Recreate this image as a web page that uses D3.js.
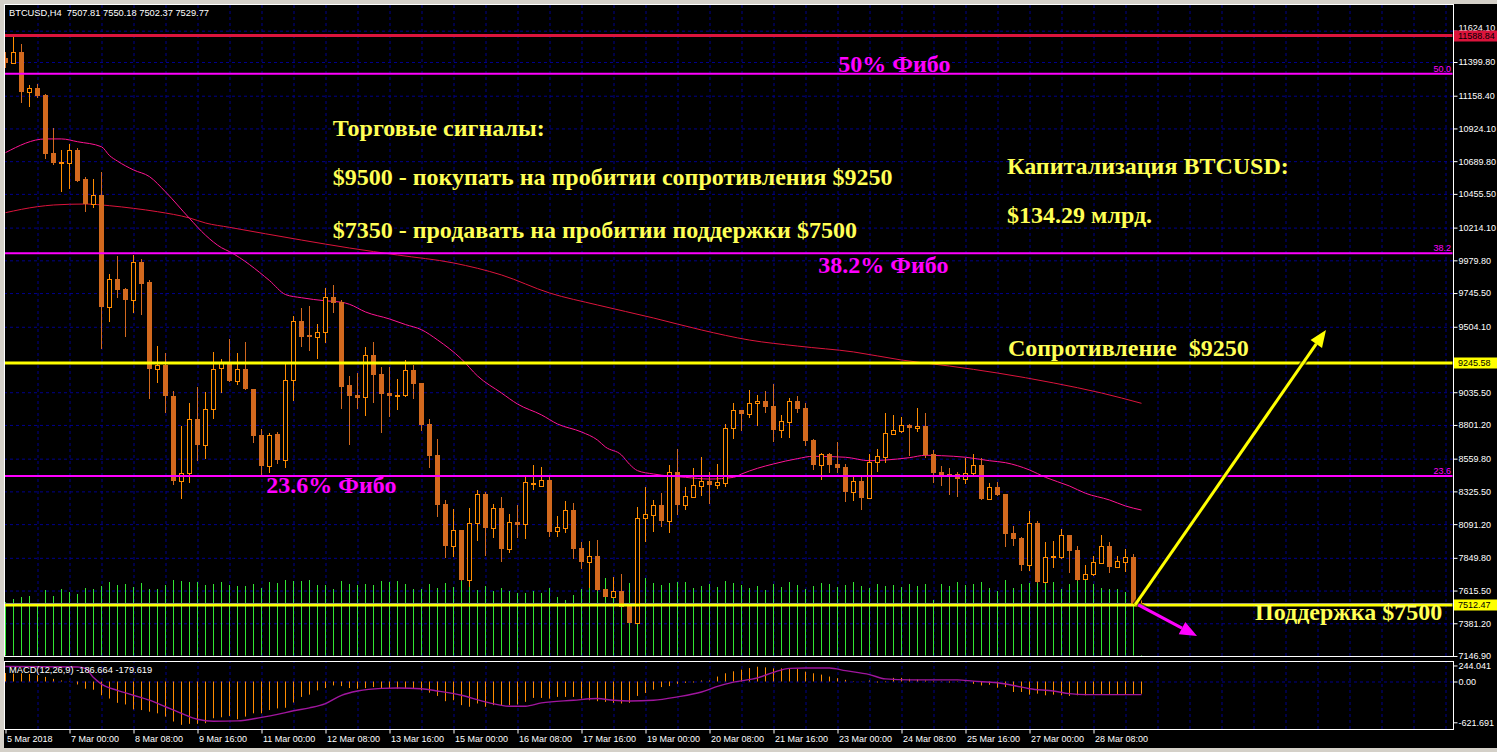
<!DOCTYPE html>
<html><head><meta charset="utf-8">
<script src="https://cdn.jsdelivr.net/npm/d3@7"></script>
<style>
html,body{margin:0;padding:0;background:#d4d0c8;overflow:hidden}
svg{display:block}
</style></head><body>
<script>
// ---------------- DATA ----------------
const openP = [11426,11395,11472,11187,11214,11164,10748,10679,10679,10770,
10562,10383,10448,9648,9846,9775,9696,9966,9823,9200,
9228,9008,8402,8455,8842,8660,8913,9207,9243,9118,
9200,9056,8727,8509,8736,8550,9123,9543,9443,9433,
9465,9715,9682,9085,9016,8999,9300,9166,9030,9011,
9016,9195,9102,8808,8586,8235,7935,8049,7691,8097,
8307,8066,8205,7915,8106,8094,8378,8366,8407,8044,
8066,8192,7920,7822,7863,7627,7572,7612,7507,7385,
8137,8159,8228,8116,8462,8230,8288,8366,8400,8374,
8388,8777,8906,8882,8961,8971,8937,8767,8825,8971,
8923,8694,8515,8593,8522,8500,8321,8400,8278,8534,
8574,8739,8760,8799,8782,8794,8593,8464,8450,8450,
8416,8455,8515,8271,8355,8307,8028,7994,7798,8097,
7679,7854,7858,8013,7906,7698,7734,7815,7935,7786,
7822,7856,7507.81];
const highP = [11474,11586,11529,11235,11242,11170,10927,10770,10813,10784,
10577,10562,10610,9882,10011,9780,10016,9990,9839,9367,
9314,9044,8796,8956,9071,9037,9324,9271,9414,9314,
9395,9060,8774,8741,8751,9243,9581,9639,9653,9524,
9782,9801,9696,9150,9173,9357,9395,9214,9214,9128,
9266,9228,9105,8844,8701,8264,8200,8052,8207,8336,
8323,8233,8283,8164,8228,8431,8515,8498,8426,8149,
8257,8242,7963,7970,7978,7630,7713,7734,7519,8216,
8359,8264,8316,8515,8629,8359,8493,8570,8462,8522,
8806,8958,8910,9051,9016,9044,9094,8870,8992,9008,
8958,8700,8603,8603,8681,8519,8431,8431,8593,8629,
8889,8872,8858,8806,8923,8889,8622,8507,8491,8467,
8562,8593,8562,8388,8395,8310,8078,8001,8185,8114,
7963,7970,8056,8016,7935,7798,7863,8013,7963,7863,
7911,7877,7550.18];
const lowP = [11355,11389,11109,11080,11142,10708,10662,10469,10493,10541,
10328,10357,9347,9540,9712,9433,9605,9588,8987,9104,
8885,8373,8273,8388,8545,8560,8846,9028,9111,9085,
9051,8674,8436,8455,8519,8491,8975,9361,9333,9276,
9386,9601,8913,8660,8913,8865,8961,8746,8860,8908,
9004,8989,8760,8495,8144,7849,7858,7684,7643,7973,
7865,7994,7822,7882,7992,7987,8336,8359,8001,8001,
8030,7844,7772,7634,7612,7569,7566,7498,7383,7383,
7965,8037,8073,8026,8157,8192,8283,8293,8235,8343,
8359,8701,8760,8853,8796,8889,8681,8710,8710,8889,
8651,8479,8407,8455,8455,8250,8257,8192,8273,8467,
8531,8734,8741,8579,8753,8562,8386,8364,8300,8288,
8378,8436,8267,8264,8295,7929,7937,7758,7758,7667,
7677,7779,7841,7741,7684,7691,7722,7811,7743,7779,
7750,7505,7502.37];
const closeP = [11395,11469,11187,11212,11159,10741,10679,10686,10770,10548,
10383,10448,9648,9846,9768,9696,9966,9810,9200,9228,
9011,8402,8455,8842,8660,8913,9200,9243,9118,9200,
9056,8724,8509,8727,8550,9123,9543,9433,9433,9465,
9715,9677,9075,9011,8996,9300,9161,9025,9011,9016,
9195,9097,8803,8581,8228,7935,8049,7691,8097,8307,
8066,8205,7915,8104,8087,8391,8385,8407,8035,8068,
8192,7915,7822,7861,7620,7572,7610,7500,7385,8133,
8162,8228,8116,8462,8228,8290,8369,8400,8371,8391,
8777,8906,8882,8956,8971,8932,8767,8827,8971,8918,
8688,8515,8593,8515,8495,8321,8400,8278,8536,8577,
8741,8763,8799,8782,8794,8586,8459,8441,8441,8416,
8455,8515,8271,8355,8300,8020,7987,7798,8097,7679,
7856,7863,8013,7899,7691,7734,7818,7935,7786,7825,
7856,7508,7529.77];
const volume = [54,57,59,60,52,66,60,67,64,62,
68,67,70,74,71,72,69,73,67,67,
71,76,75,74,74,71,72,74,71,70,
70,72,68,74,73,76,75,75,76,71,
71,67,75,72,71,72,71,75,74,75,
72,67,67,72,68,73,69,76,73,66,
70,65,68,65,63,63,65,63,68,59,
56,61,67,72,74,78,70,72,73,74,
78,73,71,73,74,74,68,70,72,69,
75,73,71,68,70,66,72,69,74,71,
67,70,73,72,69,71,74,70,68,72,
70,71,69,72,70,72,56,72,70,74,
71,72,74,68,65,76,68,72,73,76,
73,74,67,72,76,77,72,68,67,67,
64,71,1];
const macdHist = [130,120,125,115,95,70,40,15,5,-45,
-110,-125,-210,-260,-325,-350,-425,-435,-460,-485,
-535,-610,-660,-645,-645,-635,-560,-545,-525,-575,
-535,-485,-485,-435,-410,-400,-320,-235,-200,-135,
-100,-60,-70,-100,-110,-100,-85,-110,-100,-110,
-100,-100,-135,-170,-220,-300,-285,-360,-385,-335,
-385,-360,-370,-360,-350,-310,-250,-250,-260,-235,
-235,-235,-260,-285,-300,-310,-325,-335,-325,-220,
-175,-125,-85,-70,-35,-20,-15,15,15,75,
125,155,180,205,225,215,200,200,200,190,
150,125,105,75,50,25,5,3,15,-15,
-10,55,55,40,30,15,-10,-5,-15,-5,
5,-35,-60,-50,-95,-85,-160,-160,-200,-185,
-210,-200,-210,-220,-210,-210,-200,-200,-200,-200,
-200,-195,-187];
const signalIdx = [0,9,10,11,12,14,16,18,20,22,24,26,29,32,34,36,38,40,42,44,47,49,52,54,57,60,63,65,67,71,74,76,78,81,84,87,89,91,94,96,98,100,103,105,108,110,113,116,119,121,124,126,128,131,133,135,142];
const signalVal = [228,222,200,60,-40,-135,-210,-285,-385,-486,-576,-605,-600,-546,-501,-446,-401,-336,-210,-145,-105,-100,-110,-145,-210,-311,-376,-376,-326,-286,-260,-286,-296,-286,-235,-160,-75,-10,55,140,200,205,205,165,105,40,25,25,25,5,-20,-60,-110,-145,-185,-200,-200];
const maFastIdx = [0,5,7,9,12,13,14,16,18,20,23,25,27,28,33,35,37,40,42,43,45,48,50,52,54,57,59,62,64,67,69,72,74,75,77,78,79,81,85,88,91,92,94,96,99,101,105,108,110,113,115,117,120,123,125,128,130,133,135,138,140,142];
const maFastVal = [10751,10849,10849,10829,10793,10730,10690,10627,10579,10470,10280,10160,10070,10042,9835,9735,9712,9690,9680,9665,9610,9560,9520,9483,9410,9273,9152,9030,8951,8873,8808,8751,8693,8643,8586,8520,8474,8450,8426,8414,8426,8450,8491,8522,8560,8577,8570,8545,8550,8567,8584,8581,8570,8545,8531,8479,8426,8364,8312,8264,8221,8192];
const maSlowIdx = [0,4,6,10,13,16,19,23,25,28,37,43,49,56,62,68,74,81,87,93,99,106,112,118,124,131,137,142];
const maSlowVal = [10321,10364,10376,10383,10371,10352,10328,10283,10247,10216,10125,10068,10018,9961,9875,9746,9660,9567,9481,9409,9366,9324,9266,9223,9173,9102,9030,8956];
const priceTicks = [11624.10,11399.80,11158.40,10924.10,10689.80,10455.50,10214.10,9979.80,9745.50,9504.10,9035.50,8801.20,8559.80,8325.50,8091.20,7849.80,7615.50,7381.20,7146.90];
const macdTicks = [244.041, 0, -621.691];
const timeTickIdx = [0,8,16,24,32,40,48,56,64,72,80,88,96,104,112,120,128,136];
const timeTickLabels = ["5 Mar 2018","7 Mar 00:00","8 Mar 08:00","9 Mar 16:00","11 Mar 00:00","12 Mar 08:00","13 Mar 16:00","15 Mar 00:00","16 Mar 08:00","17 Mar 16:00","19 Mar 00:00","20 Mar 08:00","21 Mar 16:00","23 Mar 00:00","24 Mar 08:00","25 Mar 16:00","27 Mar 00:00","28 Mar 08:00"];
const fiboNames = ["50.0","38.2","23.6"];
const fiboPrices = [11316,10030,8436];
const hLinePrices = [11588.84, 9245.58, 7512.47];
const hLineKinds = ["red","yellow","yellow"];
const bidPrice = 7529.77;
const headerText = "BTCUSD,H4  7507.81 7550.18 7502.37 7529.77";
const macdText = "MACD(12,26,9) -186.664 -179.619";
const noteTexts = ["50% Фибо","Торговые сигналы:","$9500 - покупать на пробитии сопротивления $9250","$7350 - продавать на пробитии поддержки $7500","Капитализация BTCUSD:","$134.29 млрд.","38.2% Фибо","Сопротивление  $9250","23.6% Фибо","Поддержка $7500"];
const noteIdx = [104.1,40.9,40.9,40.9,125.2,125.2,101.6,125.3,32.6,156.2];
const notePrice = [11328,10870,10519,10140,10598,10247,9889,9295,8314,7405];
const noteKind = ["fib","sig","sig","sig","sig","sig","fib","sig","fib","sig"];
const arrowFrom = [[141.2,7512.47],[141.6,7512.47]];
const arrowTo = [[165.06,9481],[148.94,7290]];
const arrowKind = ["yellow","magenta"];

// ---------------- LAYOUT / STYLE ----------------
const W=1497,H=752, L=4, R=1453, mT=4, mB=656, dT=661, dB=729;
const C = {bg:"#000", grid:"#00008c", bull:"#ff8c00", bear:"#d2691e", vol:"#32e632",
  fast:"#ff1493", slow:"#dc143c", red:"#dc143c", yellow:"#ffff00", magenta:"#ff00ff",
  hist:"#ff8c00", sig:"#a0169e", text:"#ffffff", note:"#ffff55", bid:"#2a2aff"};
const fontUI = "'Liberation Sans', Arial, sans-serif";
const fontNote = "'Liberation Serif', 'Times New Roman', serif";

const x = d3.scaleLinear().domain([0,181]).range([5.5, 5.5+8*181]);
const y = d3.scaleLinear().domain([7146.9, 11399.8]).range([656, 62]);
const yv = d3.scaleLinear().domain([0,100]).range([mB, mB-100]);
const ym = d3.scaleLinear().domain([-621.691, 0]).range([722.3, 681.5]);

const svg = d3.select("body").append("svg").attr("width",W).attr("height",H);
svg.append("rect").attr("width",W).attr("height",H).attr("fill","#d4d0c8");
svg.append("rect").attr("x",4).attr("y",4).attr("width",W-4).attr("height",744).attr("fill",C.bg);

const defs = svg.append("defs");
defs.append("clipPath").attr("id","cm").append("rect").attr("x",L+0.5).attr("y",mT+0.5).attr("width",R-L-1).attr("height",mB-mT-1);
defs.append("clipPath").attr("id","cd").append("rect").attr("x",L+0.5).attr("y",dT+0.5).attr("width",R-L-1).attr("height",dB-dT-1);

const gridK = d3.range(4, 181, 4);
function vgrid(top, bottom){
  const g = svg.append("g").attr("transform",`translate(0,${bottom})`)
    .call(d3.axisBottom(x).tickValues(gridK).tickSize(-(bottom-top)).tickFormat(""));
  g.select(".domain").remove();
  g.selectAll("line").attr("stroke",C.grid).attr("stroke-dasharray","3,3");
}
vgrid(mT, mB); vgrid(dT, dB);
{
  const g = svg.append("g").attr("transform",`translate(${R},0)`)
    .call(d3.axisLeft(y).tickValues(priceTicks).tickSize(R-L).tickFormat(""));
  g.select(".domain").remove();
  g.selectAll("line").attr("stroke",C.grid).attr("stroke-dasharray","3,3");
  const g2 = svg.append("g").attr("transform",`translate(${R},0)`)
    .call(d3.axisLeft(ym).tickValues([0]).tickSize(R-L).tickFormat(""));
  g2.select(".domain").remove();
  g2.selectAll("line").attr("stroke",C.grid).attr("stroke-dasharray","3,3");
}

// ---- main panel ----
const main = svg.append("g").attr("clip-path","url(#cm)");
const idx = d3.range(openP.length);
main.append("g").selectAll("line").data(idx).join("line")
  .attr("x1",i=>x(i)).attr("x2",i=>x(i)).attr("y1",mB).attr("y2",i=>yv(volume[i]))
  .attr("stroke",C.vol).attr("stroke-width",1);

main.append("line").attr("x1",L).attr("x2",R).attr("y1",Math.round(y(bidPrice))+0.5).attr("y2",Math.round(y(bidPrice))+0.5)
  .attr("stroke",C.bid).attr("stroke-width",1);

const line = d3.line().curve(d3.curveMonotoneX);
main.append("path").attr("d", line(maSlowIdx.map((k,i)=>[x(k), y(maSlowVal[i])])))
  .attr("fill","none").attr("stroke",C.slow).attr("stroke-width",1);
main.append("path").attr("d", line(maFastIdx.map((k,i)=>[x(k), y(maFastVal[i])])))
  .attr("fill","none").attr("stroke",C.fast).attr("stroke-width",1);

const cg = main.append("g");
idx.forEach(i=>{
  const o=openP[i], h=highP[i], l=lowP[i], c=closeP[i];
  const bull = c>=o, col = bull?C.bull:C.bear, xc=x(i);
  cg.append("line").attr("x1",xc).attr("x2",xc).attr("y1",Math.round(y(h))).attr("y2",Math.round(y(l)))
    .attr("stroke",col).attr("stroke-width",1);
  const top = Math.round(y(Math.max(o,c))), bot = Math.round(y(Math.min(o,c)));
  if (bull){
    if (bot-top < 2){
      cg.append("rect").attr("x",xc-2.5).attr("y",top).attr("width",5).attr("height",Math.max(1,bot-top)+1).attr("fill",col);
    } else {
      cg.append("rect").attr("x",xc-2).attr("y",top+0.5).attr("width",4).attr("height",bot-top)
        .attr("fill",C.bg).attr("stroke",col).attr("stroke-width",1);
    }
  } else {
    cg.append("rect").attr("x",xc-2.5).attr("y",top).attr("width",5).attr("height",Math.max(1,bot-top)).attr("fill",col);
  }
});

// horizontal levels
fiboPrices.forEach((p,i)=>{
  main.append("line").attr("x1",L).attr("x2",R).attr("y1",y(p)).attr("y2",y(p))
    .attr("stroke",C.magenta).attr("stroke-width",2);
  svg.append("text").attr("x",R-2).attr("y",y(p)-2).attr("text-anchor","end")
    .attr("font-family",fontUI).attr("font-size",9).attr("fill",C.magenta).text(fiboNames[i]);
});
hLinePrices.forEach((p,i)=>{
  main.append("line").attr("x1",L).attr("x2",R).attr("y1",y(p)).attr("y2",y(p))
    .attr("stroke",C[hLineKinds[i]]).attr("stroke-width",3);
});

// arrows
arrowFrom.forEach((f,i)=>{
  const x1=x(f[0]), y1=y(f[1]), x2=x(arrowTo[i][0]), y2=y(arrowTo[i][1]);
  const col = C[arrowKind[i]];
  const ang = Math.atan2(y2-y1, x2-x1), len=17, hw=7;
  const bx = x2-len*Math.cos(ang), by = y2-len*Math.sin(ang);
  svg.append("line").attr("x1",x1).attr("y1",y1).attr("x2",bx).attr("y2",by)
    .attr("stroke","#000").attr("stroke-opacity",0.6).attr("stroke-width",6);
  svg.append("line").attr("x1",x1).attr("y1",y1).attr("x2",bx).attr("y2",by)
    .attr("stroke",col).attr("stroke-width",3);
  const pts = [[x2,y2],[bx+hw*Math.sin(ang), by-hw*Math.cos(ang)],[bx-hw*Math.sin(ang), by+hw*Math.cos(ang)]];
  svg.append("polygon").attr("points",pts.map(p=>p.join(",")).join(" ")).attr("fill",col);
});

// notes
noteTexts.forEach((t,i)=>{
  svg.append("text").attr("x",x(noteIdx[i])).attr("y",y(notePrice[i]))
    .attr("font-family",fontNote).attr("font-weight","bold").attr("font-size",24)
    .attr("fill", noteKind[i]==="fib"?C.magenta:C.note).style("white-space","pre").text(t);
});

// ---- MACD panel ----
const md = svg.append("g").attr("clip-path","url(#cd)");
md.append("g").selectAll("line").data(idx).join("line")
  .attr("x1",i=>x(i)).attr("x2",i=>x(i)).attr("y1",ym(0)).attr("y2",i=>ym(macdHist[i]))
  .attr("stroke",C.hist).attr("stroke-width",1);
md.append("path").attr("d", line(signalIdx.map((k,i)=>[x(k), ym(signalVal[i])])))
  .attr("fill","none").attr("stroke",C.sig).attr("stroke-width",1.4);

// frames
svg.append("rect").attr("x",L+0.5).attr("y",mT+0.5).attr("width",R-L).attr("height",mB-mT).attr("fill","none").attr("stroke","#fff");
svg.append("rect").attr("x",L+0.5).attr("y",dT+0.5).attr("width",R-L).attr("height",dB-dT).attr("fill","none").attr("stroke","#fff");

// price axis
function styleAxis(g){
  g.select(".domain").remove();
  g.selectAll("line").attr("stroke","#fff");
  g.selectAll("text").attr("fill",C.text).attr("font-family",fontUI).attr("font-size",9);
}
const boxY = hLinePrices.map(p=>Math.round(y(p)));
svg.append("g").attr("transform",`translate(${R+0.5},0)`)
  .call(d3.axisRight(y).tickValues(priceTicks).tickSize(4).tickPadding(1).tickFormat(d=>d.toFixed(2)))
  .call(styleAxis)
  .call(g=>g.selectAll(".tick text").filter(d=>boxY.some(b=>Math.abs(y(d)-b)<8)).attr("dy","-0.05em"));
svg.append("g").attr("transform",`translate(${R+0.5},0)`)
  .call(d3.axisRight(ym).tickValues(macdTicks).tickSize(4).tickPadding(1).tickFormat(d=>d===0?"0.00":d.toFixed(3)))
  .call(styleAxis);

// level boxes on the axis
hLinePrices.forEach((p,i)=>{
  const yy = boxY[i];
  svg.append("rect").attr("x",R+1).attr("y",yy-5.5).attr("width",W-R-1).attr("height",11).attr("fill",C[hLineKinds[i]]);
  svg.append("text").attr("x",R+5).attr("y",yy).attr("dy","0.35em").attr("font-family",fontUI).attr("font-size",9)
    .attr("fill","#000").text(p.toFixed(2));
});

// time axis
{
  const g = svg.append("g").attr("transform",`translate(0,${dB+0.5})`)
    .call(d3.axisBottom(x).tickValues(timeTickIdx).tickSize(4).tickPadding(2).tickFormat((d,i)=>timeTickLabels[i]));
  styleAxis(g);
  g.selectAll("text").attr("text-anchor","start").attr("x",1);
}

// header texts
svg.append("text").attr("x",9).attr("y",16).attr("font-family",fontUI).attr("font-size",9.3).attr("fill",C.text).style("white-space","pre").text(headerText);
svg.append("text").attr("x",9).attr("y",673).attr("font-family",fontUI).attr("font-size",9.3).attr("fill",C.text).text(macdText);
</script>
</body></html>
